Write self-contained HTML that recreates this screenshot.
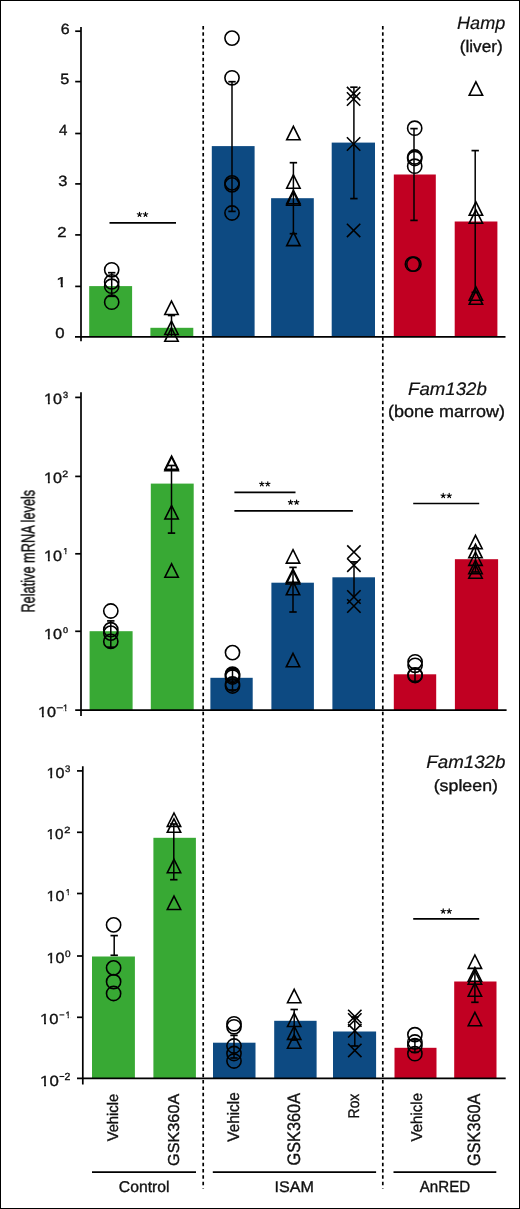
<!DOCTYPE html>
<html><head><meta charset="utf-8"><title>Relative mRNA levels</title>
<style>
html,body{margin:0;padding:0;background:#fff;width:520px;height:1209px;overflow:hidden}
svg{display:block;font-family:"Liberation Sans",sans-serif;text-rendering:geometricPrecision}
</style></head>
<body>
<svg width="520" height="1209" viewBox="0 0 520 1209"><defs><clipPath id="c0" clipPathUnits="userSpaceOnUse"><path d="M-500,-500H3000V500H-500ZM2.70,-22H23.70V15H2.70ZM35.30,-22H56.30V15H35.30Z" clip-rule="evenodd"/></clipPath><clipPath id="c1" clipPathUnits="userSpaceOnUse"><path d="M-500,-500H3000V500H-500ZM2.70,-22H23.70V15H2.70ZM35.30,-22H56.30V15H35.30Z" clip-rule="evenodd"/></clipPath><clipPath id="c2" clipPathUnits="userSpaceOnUse"><path d="M-500,-500H3000V500H-500ZM2.70,-22H23.70V15H2.70ZM35.30,-22H56.30V15H35.30Z" clip-rule="evenodd"/></clipPath><clipPath id="c3" clipPathUnits="userSpaceOnUse"><path d="M-500,-500H3000V500H-500ZM2.70,-22H23.70V15H2.70ZM35.30,-22H56.30V15H35.30Z" clip-rule="evenodd"/></clipPath><clipPath id="c4" clipPathUnits="userSpaceOnUse"><path d="M-500,-500H3000V500H-500ZM2.70,-22H23.70V15H2.70ZM35.30,-22H56.30V15H35.30Z" clip-rule="evenodd"/></clipPath><clipPath id="c5" clipPathUnits="userSpaceOnUse"><path d="M-500,-500H3000V500H-500ZM2.70,-22H23.70V15H2.70ZM35.30,-22H56.30V15H35.30Z" clip-rule="evenodd"/></clipPath><clipPath id="c6" clipPathUnits="userSpaceOnUse"><path d="M-500,-500H3000V500H-500ZM2.70,-22H23.70V15H2.70ZM35.30,-22H56.30V15H35.30Z" clip-rule="evenodd"/></clipPath><clipPath id="c7" clipPathUnits="userSpaceOnUse"><path d="M-500,-500H3000V500H-500ZM2.70,-22H23.70V15H2.70ZM35.30,-22H56.30V15H35.30Z" clip-rule="evenodd"/></clipPath><clipPath id="c8" clipPathUnits="userSpaceOnUse"><path d="M-500,-500H3000V500H-500ZM2.70,-22H23.70V15H2.70ZM35.30,-22H56.30V15H35.30Z" clip-rule="evenodd"/></clipPath><clipPath id="c9" clipPathUnits="userSpaceOnUse"><path d="M-500,-500H3000V500H-500ZM2.70,-22H23.70V15H2.70ZM35.30,-22H56.30V15H35.30Z" clip-rule="evenodd"/></clipPath><clipPath id="c10" clipPathUnits="userSpaceOnUse"><path d="M-500,-500H3000V500H-500ZM2.70,-22H23.70V15H2.70ZM35.30,-22H56.30V15H35.30Z" clip-rule="evenodd"/></clipPath><clipPath id="c11" clipPathUnits="userSpaceOnUse"><path d="M-500,-500H3000V500H-500ZM2.70,-22H23.70V15H2.70ZM35.30,-22H56.30V15H35.30Z" clip-rule="evenodd"/></clipPath><clipPath id="c12" clipPathUnits="userSpaceOnUse"><path d="M-500,-500H3000V500H-500ZM2.70,-22H23.70V15H2.70ZM35.30,-22H56.30V15H35.30Z" clip-rule="evenodd"/></clipPath><clipPath id="c13" clipPathUnits="userSpaceOnUse"><path d="M-500,-500H3000V500H-500ZM2.70,-22H23.70V15H2.70ZM35.30,-22H56.30V15H35.30Z" clip-rule="evenodd"/></clipPath><clipPath id="c14" clipPathUnits="userSpaceOnUse"><path d="M-500,-500H3000V500H-500ZM2.70,-22H23.70V15H2.70ZM35.30,-22H56.30V15H35.30Z" clip-rule="evenodd"/></clipPath><clipPath id="c15" clipPathUnits="userSpaceOnUse"><path d="M-500,-500H3000V500H-500ZM2.70,-22H23.70V15H2.70ZM35.30,-22H56.30V15H35.30Z" clip-rule="evenodd"/></clipPath></defs><rect x="0" y="0" width="520" height="1209" fill="#fff"/><line x1="203.2" y1="26" x2="203.2" y2="1188.5" stroke="#000" stroke-width="1.7" stroke-dasharray="3.5 2.85"/><line x1="382.8" y1="26" x2="382.8" y2="1188.5" stroke="#000" stroke-width="1.7" stroke-dasharray="3.5 2.85"/><rect x="89.20" y="286.10" width="42.90" height="50.70" fill="#38a934"/><rect x="150.40" y="327.80" width="42.90" height="9.00" fill="#38a934"/><rect x="211.80" y="146.10" width="42.80" height="190.70" fill="#0d4a82"/><rect x="271.10" y="198.20" width="42.70" height="138.60" fill="#0d4a82"/><rect x="331.70" y="142.60" width="43.30" height="194.20" fill="#0d4a82"/><rect x="393.80" y="174.50" width="42.00" height="162.30" fill="#c10022"/><rect x="454.70" y="221.50" width="42.70" height="115.30" fill="#c10022"/><rect x="89.60" y="631.20" width="43.00" height="79.00" fill="#38a934"/><rect x="150.80" y="483.60" width="42.90" height="226.60" fill="#38a934"/><rect x="210.40" y="677.80" width="42.30" height="32.40" fill="#0d4a82"/><rect x="271.40" y="582.70" width="42.50" height="127.50" fill="#0d4a82"/><rect x="332.40" y="577.30" width="42.60" height="132.90" fill="#0d4a82"/><rect x="393.80" y="674.30" width="42.40" height="35.90" fill="#c10022"/><rect x="454.90" y="559.20" width="43.20" height="151.00" fill="#c10022"/><rect x="92.00" y="956.50" width="42.90" height="121.90" fill="#38a934"/><rect x="153.40" y="837.80" width="42.50" height="240.60" fill="#38a934"/><rect x="213.00" y="1042.70" width="42.50" height="35.70" fill="#0d4a82"/><rect x="274.20" y="1020.80" width="42.40" height="57.60" fill="#0d4a82"/><rect x="333.00" y="1031.50" width="43.10" height="46.90" fill="#0d4a82"/><rect x="394.50" y="1047.80" width="42.00" height="30.60" fill="#c10022"/><rect x="454.20" y="981.50" width="42.30" height="96.90" fill="#c10022"/><line x1="81" y1="26.9" x2="81" y2="341.2" stroke="#000" stroke-width="1.7" /><line x1="75.0" y1="336.8" x2="505.5" y2="336.8" stroke="#000" stroke-width="1.7" /><line x1="75.2" y1="286.4" x2="81" y2="286.4" stroke="#000" stroke-width="1.7" /><line x1="75.2" y1="234.9" x2="81" y2="234.9" stroke="#000" stroke-width="1.7" /><line x1="75.2" y1="183.9" x2="81" y2="183.9" stroke="#000" stroke-width="1.7" /><line x1="75.2" y1="133.5" x2="81" y2="133.5" stroke="#000" stroke-width="1.7" /><line x1="75.2" y1="81.6" x2="81" y2="81.6" stroke="#000" stroke-width="1.7" /><line x1="75.2" y1="31.2" x2="81" y2="31.2" stroke="#000" stroke-width="1.7" /><line x1="81" y1="392.3" x2="81" y2="716.0" stroke="#000" stroke-width="1.7" /><line x1="75.2" y1="710.2" x2="506.6" y2="710.2" stroke="#000" stroke-width="1.7" /><line x1="75.2" y1="397.4" x2="81" y2="397.4" stroke="#000" stroke-width="1.7" /><line x1="75.2" y1="476.4" x2="81" y2="476.4" stroke="#000" stroke-width="1.7" /><line x1="75.2" y1="553.8" x2="81" y2="553.8" stroke="#000" stroke-width="1.7" /><line x1="75.2" y1="631.3" x2="81" y2="631.3" stroke="#000" stroke-width="1.7" /><line x1="82.8" y1="766.2" x2="82.8" y2="1084.5" stroke="#000" stroke-width="1.7" /><line x1="77.0" y1="1078.4" x2="505.7" y2="1078.4" stroke="#000" stroke-width="1.7" /><line x1="77.0" y1="770.9" x2="82.8" y2="770.9" stroke="#000" stroke-width="1.7" /><line x1="77.0" y1="832.3" x2="82.8" y2="832.3" stroke="#000" stroke-width="1.7" /><line x1="77.0" y1="893.5" x2="82.8" y2="893.5" stroke="#000" stroke-width="1.7" /><line x1="77.0" y1="956.0" x2="82.8" y2="956.0" stroke="#000" stroke-width="1.7" /><line x1="77.0" y1="1017.3" x2="82.8" y2="1017.3" stroke="#000" stroke-width="1.7" /><line x1="111.7" y1="272.7" x2="111.7" y2="296.3" stroke="#000" stroke-width="1.5" /><line x1="108.0" y1="272.7" x2="115.4" y2="272.7" stroke="#000" stroke-width="1.7" /><line x1="108.0" y1="296.3" x2="115.4" y2="296.3" stroke="#000" stroke-width="1.7" /><circle cx="111.7" cy="269.8" r="7.1" fill="none" stroke="#000" stroke-width="1.6"/><circle cx="111.7" cy="281.9" r="7.1" fill="none" stroke="#000" stroke-width="1.6"/><circle cx="111.7" cy="286.2" r="7.1" fill="none" stroke="#000" stroke-width="1.6"/><circle cx="111.7" cy="302.2" r="7.1" fill="none" stroke="#000" stroke-width="1.6"/><line x1="171.5" y1="315.5" x2="171.5" y2="336.0" stroke="#000" stroke-width="1.5" /><line x1="167.8" y1="315.5" x2="175.2" y2="315.5" stroke="#000" stroke-width="1.7" /><path d="M171.50,301.10L178.20,314.50L164.80,314.50Z" fill="none" stroke="#000" stroke-width="1.6" stroke-linejoin="miter"/><path d="M171.50,321.10L178.20,334.50L164.80,334.50Z" fill="none" stroke="#000" stroke-width="1.6" stroke-linejoin="miter"/><path d="M171.50,327.90L178.20,341.30L164.80,341.30Z" fill="none" stroke="#000" stroke-width="1.6" stroke-linejoin="miter"/><line x1="232.0" y1="81.7" x2="232.0" y2="211.4" stroke="#000" stroke-width="1.5" /><line x1="228.3" y1="81.7" x2="235.7" y2="81.7" stroke="#000" stroke-width="1.7" /><line x1="228.3" y1="211.4" x2="235.7" y2="211.4" stroke="#000" stroke-width="1.7" /><circle cx="232.0" cy="38.1" r="7.1" fill="none" stroke="#000" stroke-width="1.6"/><circle cx="232.0" cy="77.8" r="7.1" fill="none" stroke="#000" stroke-width="1.6"/><circle cx="232.0" cy="182.9" r="7.1" fill="none" stroke="#000" stroke-width="1.6"/><circle cx="232.0" cy="184.9" r="7.1" fill="none" stroke="#000" stroke-width="1.6"/><circle cx="232.0" cy="213.0" r="7.1" fill="none" stroke="#000" stroke-width="1.6"/><line x1="293.4" y1="162.7" x2="293.4" y2="233.7" stroke="#000" stroke-width="1.5" /><line x1="289.7" y1="162.7" x2="297.09999999999997" y2="162.7" stroke="#000" stroke-width="1.7" /><line x1="289.7" y1="233.7" x2="297.09999999999997" y2="233.7" stroke="#000" stroke-width="1.7" /><path d="M293.40,126.40L300.10,139.80L286.70,139.80Z" fill="none" stroke="#000" stroke-width="1.6" stroke-linejoin="miter"/><path d="M293.40,174.80L300.10,188.20L286.70,188.20Z" fill="none" stroke="#000" stroke-width="1.6" stroke-linejoin="miter"/><path d="M293.40,190.30L300.10,203.70L286.70,203.70Z" fill="none" stroke="#000" stroke-width="1.6" stroke-linejoin="miter"/><path d="M293.40,191.90L300.10,205.30L286.70,205.30Z" fill="none" stroke="#000" stroke-width="1.6" stroke-linejoin="miter"/><path d="M293.40,232.20L300.10,245.60L286.70,245.60Z" fill="none" stroke="#000" stroke-width="1.6" stroke-linejoin="miter"/><line x1="353.9" y1="87.2" x2="353.9" y2="198.6" stroke="#000" stroke-width="1.5" /><line x1="350.2" y1="87.2" x2="357.59999999999997" y2="87.2" stroke="#000" stroke-width="1.7" /><line x1="350.2" y1="198.6" x2="357.59999999999997" y2="198.6" stroke="#000" stroke-width="1.7" /><path d="M346.90,86.90L360.30,100.30M346.90,100.30L360.30,86.90" fill="none" stroke="#000" stroke-width="1.6"/><path d="M346.90,92.30L360.30,105.70M346.90,105.70L360.30,92.30" fill="none" stroke="#000" stroke-width="1.6"/><path d="M346.90,137.30L360.30,150.70M346.90,150.70L360.30,137.30" fill="none" stroke="#000" stroke-width="1.6"/><path d="M346.90,223.70L360.30,237.10M346.90,237.10L360.30,223.70" fill="none" stroke="#000" stroke-width="1.6"/><line x1="414.0" y1="128.6" x2="414.0" y2="220.4" stroke="#000" stroke-width="1.5" /><line x1="410.3" y1="128.6" x2="417.7" y2="128.6" stroke="#000" stroke-width="1.7" /><line x1="410.3" y1="220.4" x2="417.7" y2="220.4" stroke="#000" stroke-width="1.7" /><circle cx="414.7" cy="128.2" r="7.1" fill="none" stroke="#000" stroke-width="1.6"/><circle cx="414.7" cy="157.0" r="7.1" fill="none" stroke="#000" stroke-width="1.6"/><circle cx="414.7" cy="158.5" r="7.1" fill="none" stroke="#000" stroke-width="1.6"/><circle cx="414.7" cy="166.2" r="7.1" fill="none" stroke="#000" stroke-width="1.6"/><circle cx="412.4" cy="264.2" r="7.1" fill="none" stroke="#000" stroke-width="1.6"/><circle cx="413.9" cy="264.2" r="7.1" fill="none" stroke="#000" stroke-width="1.6"/><line x1="475.2" y1="150.6" x2="475.2" y2="292.4" stroke="#000" stroke-width="1.5" /><line x1="471.5" y1="150.6" x2="478.9" y2="150.6" stroke="#000" stroke-width="1.7" /><line x1="471.5" y1="292.4" x2="478.9" y2="292.4" stroke="#000" stroke-width="1.7" /><path d="M475.90,81.90L482.60,95.30L469.20,95.30Z" fill="none" stroke="#000" stroke-width="1.6" stroke-linejoin="miter"/><path d="M475.90,201.90L482.60,215.30L469.20,215.30Z" fill="none" stroke="#000" stroke-width="1.6" stroke-linejoin="miter"/><path d="M475.90,209.80L482.60,223.20L469.20,223.20Z" fill="none" stroke="#000" stroke-width="1.6" stroke-linejoin="miter"/><path d="M475.90,286.90L482.60,300.30L469.20,300.30Z" fill="none" stroke="#000" stroke-width="1.6" stroke-linejoin="miter"/><path d="M475.90,290.90L482.60,304.30L469.20,304.30Z" fill="none" stroke="#000" stroke-width="1.6" stroke-linejoin="miter"/><line x1="109.5" y1="222.9" x2="176.0" y2="222.9" stroke="#000" stroke-width="1.7" /><path d="M139.50,214.50L139.50,212.20M139.50,214.50L137.31,213.79M139.50,214.50L138.15,216.36M139.50,214.50L140.85,216.36M139.50,214.50L141.69,213.79" stroke="#000" stroke-width="1.15" stroke-linecap="round" fill="none"/><path d="M145.50,214.50L145.50,212.20M145.50,214.50L143.31,213.79M145.50,214.50L144.15,216.36M145.50,214.50L146.85,216.36M145.50,214.50L147.69,213.79" stroke="#000" stroke-width="1.15" stroke-linecap="round" fill="none"/><line x1="110.8" y1="620.9" x2="110.8" y2="647.2" stroke="#000" stroke-width="1.5" /><line x1="107.1" y1="620.9" x2="114.5" y2="620.9" stroke="#000" stroke-width="1.7" /><line x1="107.1" y1="647.2" x2="114.5" y2="647.2" stroke="#000" stroke-width="1.7" /><circle cx="110.8" cy="611.0" r="7.1" fill="none" stroke="#000" stroke-width="1.6"/><circle cx="110.8" cy="629.7" r="7.1" fill="none" stroke="#000" stroke-width="1.6"/><circle cx="110.8" cy="633.1" r="7.1" fill="none" stroke="#000" stroke-width="1.6"/><circle cx="110.8" cy="641.4" r="7.1" fill="none" stroke="#000" stroke-width="1.6"/><line x1="171.5" y1="465.5" x2="171.5" y2="533.1" stroke="#000" stroke-width="1.5" /><line x1="167.8" y1="465.5" x2="175.2" y2="465.5" stroke="#000" stroke-width="1.7" /><line x1="167.8" y1="533.1" x2="175.2" y2="533.1" stroke="#000" stroke-width="1.7" /><path d="M171.60,456.00L178.30,469.40L164.90,469.40Z" fill="none" stroke="#000" stroke-width="1.6" stroke-linejoin="miter"/><path d="M171.60,457.20L178.30,470.60L164.90,470.60Z" fill="none" stroke="#000" stroke-width="1.6" stroke-linejoin="miter"/><path d="M171.60,505.60L178.30,519.00L164.90,519.00Z" fill="none" stroke="#000" stroke-width="1.6" stroke-linejoin="miter"/><path d="M171.60,563.80L178.30,577.20L164.90,577.20Z" fill="none" stroke="#000" stroke-width="1.6" stroke-linejoin="miter"/><line x1="232.5" y1="670.0" x2="232.5" y2="690.0" stroke="#000" stroke-width="1.5" /><line x1="228.8" y1="670.0" x2="236.2" y2="670.0" stroke="#000" stroke-width="1.7" /><line x1="228.8" y1="690.0" x2="236.2" y2="690.0" stroke="#000" stroke-width="1.7" /><circle cx="232.5" cy="652.6" r="7.1" fill="none" stroke="#000" stroke-width="1.6"/><circle cx="232.5" cy="674.2" r="7.1" fill="none" stroke="#000" stroke-width="1.6"/><circle cx="232.5" cy="675.5" r="7.1" fill="none" stroke="#000" stroke-width="1.6"/><circle cx="232.5" cy="677.0" r="7.1" fill="none" stroke="#000" stroke-width="1.6"/><circle cx="232.5" cy="684.0" r="7.1" fill="none" stroke="#000" stroke-width="1.6"/><circle cx="232.5" cy="686.0" r="7.1" fill="none" stroke="#000" stroke-width="1.6"/><line x1="293.0" y1="567.4" x2="293.0" y2="612.0" stroke="#000" stroke-width="1.5" /><line x1="289.3" y1="567.4" x2="296.7" y2="567.4" stroke="#000" stroke-width="1.7" /><line x1="289.3" y1="612.0" x2="296.7" y2="612.0" stroke="#000" stroke-width="1.7" /><path d="M293.00,549.70L299.70,563.10L286.30,563.10Z" fill="none" stroke="#000" stroke-width="1.6" stroke-linejoin="miter"/><path d="M293.00,569.00L299.70,582.40L286.30,582.40Z" fill="none" stroke="#000" stroke-width="1.6" stroke-linejoin="miter"/><path d="M293.00,570.60L299.70,584.00L286.30,584.00Z" fill="none" stroke="#000" stroke-width="1.6" stroke-linejoin="miter"/><path d="M293.00,581.40L299.70,594.80L286.30,594.80Z" fill="none" stroke="#000" stroke-width="1.6" stroke-linejoin="miter"/><path d="M293.00,653.40L299.70,666.80L286.30,666.80Z" fill="none" stroke="#000" stroke-width="1.6" stroke-linejoin="miter"/><line x1="354.0" y1="561.9" x2="354.0" y2="598.0" stroke="#000" stroke-width="1.5" /><line x1="350.3" y1="561.9" x2="357.7" y2="561.9" stroke="#000" stroke-width="1.7" /><path d="M347.20,545.40L360.60,558.80M347.20,558.80L360.60,545.40" fill="none" stroke="#000" stroke-width="1.6"/><path d="M347.20,558.50L360.60,571.90M347.20,571.90L360.60,558.50" fill="none" stroke="#000" stroke-width="1.6"/><path d="M347.20,590.30L360.60,603.70M347.20,603.70L360.60,590.30" fill="none" stroke="#000" stroke-width="1.6"/><path d="M347.20,599.30L360.60,612.70M347.20,612.70L360.60,599.30" fill="none" stroke="#000" stroke-width="1.6"/><line x1="415.0" y1="669.0" x2="415.0" y2="681.4" stroke="#000" stroke-width="1.5" /><line x1="411.3" y1="669.0" x2="418.7" y2="669.0" stroke="#000" stroke-width="1.7" /><line x1="411.3" y1="681.4" x2="418.7" y2="681.4" stroke="#000" stroke-width="1.7" /><circle cx="415.1" cy="661.8" r="7.1" fill="none" stroke="#000" stroke-width="1.6"/><circle cx="415.1" cy="665.3" r="7.1" fill="none" stroke="#000" stroke-width="1.6"/><circle cx="415.1" cy="674.8" r="7.1" fill="none" stroke="#000" stroke-width="1.6"/><circle cx="415.1" cy="675.5" r="7.1" fill="none" stroke="#000" stroke-width="1.6"/><line x1="475.5" y1="548.0" x2="475.5" y2="572.0" stroke="#000" stroke-width="1.5" /><line x1="471.8" y1="548.0" x2="479.2" y2="548.0" stroke="#000" stroke-width="1.7" /><line x1="471.8" y1="572.0" x2="479.2" y2="572.0" stroke="#000" stroke-width="1.7" /><path d="M475.50,535.30L482.20,548.70L468.80,548.70Z" fill="none" stroke="#000" stroke-width="1.6" stroke-linejoin="miter"/><path d="M475.50,544.40L482.20,557.80L468.80,557.80Z" fill="none" stroke="#000" stroke-width="1.6" stroke-linejoin="miter"/><path d="M475.50,552.00L482.20,565.40L468.80,565.40Z" fill="none" stroke="#000" stroke-width="1.6" stroke-linejoin="miter"/><path d="M475.50,560.30L482.20,573.70L468.80,573.70Z" fill="none" stroke="#000" stroke-width="1.6" stroke-linejoin="miter"/><path d="M475.50,564.80L482.20,578.20L468.80,578.20Z" fill="none" stroke="#000" stroke-width="1.6" stroke-linejoin="miter"/><line x1="234.4" y1="492.3" x2="295.5" y2="492.3" stroke="#000" stroke-width="1.7" /><path d="M261.80,484.00L261.80,481.70M261.80,484.00L259.61,483.29M261.80,484.00L260.45,485.86M261.80,484.00L263.15,485.86M261.80,484.00L263.99,483.29" stroke="#000" stroke-width="1.15" stroke-linecap="round" fill="none"/><path d="M267.80,484.00L267.80,481.70M267.80,484.00L265.61,483.29M267.80,484.00L266.45,485.86M267.80,484.00L269.15,485.86M267.80,484.00L269.99,483.29" stroke="#000" stroke-width="1.15" stroke-linecap="round" fill="none"/><line x1="234.4" y1="510.9" x2="352.9" y2="510.9" stroke="#000" stroke-width="1.7" /><path d="M290.60,502.30L290.60,500.00M290.60,502.30L288.41,501.59M290.60,502.30L289.25,504.16M290.60,502.30L291.95,504.16M290.60,502.30L292.79,501.59" stroke="#000" stroke-width="1.15" stroke-linecap="round" fill="none"/><path d="M296.60,502.30L296.60,500.00M296.60,502.30L294.41,501.59M296.60,502.30L295.25,504.16M296.60,502.30L297.95,504.16M296.60,502.30L298.79,501.59" stroke="#000" stroke-width="1.15" stroke-linecap="round" fill="none"/><line x1="413.2" y1="503.5" x2="479.2" y2="503.5" stroke="#000" stroke-width="1.7" /><path d="M443.20,495.70L443.20,493.40M443.20,495.70L441.01,494.99M443.20,495.70L441.85,497.56M443.20,495.70L444.55,497.56M443.20,495.70L445.39,494.99" stroke="#000" stroke-width="1.15" stroke-linecap="round" fill="none"/><path d="M449.20,495.70L449.20,493.40M449.20,495.70L447.01,494.99M449.20,495.70L447.85,497.56M449.20,495.70L450.55,497.56M449.20,495.70L451.39,494.99" stroke="#000" stroke-width="1.15" stroke-linecap="round" fill="none"/><line x1="114.2" y1="935.6" x2="114.2" y2="955.3" stroke="#000" stroke-width="1.5" /><line x1="110.5" y1="935.6" x2="117.9" y2="935.6" stroke="#000" stroke-width="1.7" /><line x1="110.5" y1="955.3" x2="117.9" y2="955.3" stroke="#000" stroke-width="1.7" /><circle cx="113.6" cy="924.9" r="7.1" fill="none" stroke="#000" stroke-width="1.6"/><circle cx="113.6" cy="967.9" r="7.1" fill="none" stroke="#000" stroke-width="1.6"/><circle cx="113.6" cy="981.7" r="7.1" fill="none" stroke="#000" stroke-width="1.6"/><circle cx="113.6" cy="993.5" r="7.1" fill="none" stroke="#000" stroke-width="1.6"/><line x1="173.8" y1="824.0" x2="173.8" y2="879.7" stroke="#000" stroke-width="1.5" /><line x1="170.10000000000002" y1="824.0" x2="177.5" y2="824.0" stroke="#000" stroke-width="1.7" /><line x1="170.10000000000002" y1="879.7" x2="177.5" y2="879.7" stroke="#000" stroke-width="1.7" /><path d="M174.00,813.00L180.70,826.40L167.30,826.40Z" fill="none" stroke="#000" stroke-width="1.6" stroke-linejoin="miter"/><path d="M174.00,818.90L180.70,832.30L167.30,832.30Z" fill="none" stroke="#000" stroke-width="1.6" stroke-linejoin="miter"/><path d="M174.00,859.30L180.70,872.70L167.30,872.70Z" fill="none" stroke="#000" stroke-width="1.6" stroke-linejoin="miter"/><path d="M174.00,896.10L180.70,909.50L167.30,909.50Z" fill="none" stroke="#000" stroke-width="1.6" stroke-linejoin="miter"/><line x1="234.0" y1="1035.4" x2="234.0" y2="1058.0" stroke="#000" stroke-width="1.5" /><line x1="230.3" y1="1035.4" x2="237.7" y2="1035.4" stroke="#000" stroke-width="1.7" /><line x1="230.3" y1="1058.0" x2="237.7" y2="1058.0" stroke="#000" stroke-width="1.7" /><circle cx="234.0" cy="1023.8" r="7.1" fill="none" stroke="#000" stroke-width="1.6"/><circle cx="234.0" cy="1026.8" r="7.1" fill="none" stroke="#000" stroke-width="1.6"/><circle cx="234.0" cy="1046.0" r="7.1" fill="none" stroke="#000" stroke-width="1.6"/><circle cx="234.0" cy="1053.5" r="7.1" fill="none" stroke="#000" stroke-width="1.6"/><circle cx="234.0" cy="1061.0" r="7.1" fill="none" stroke="#000" stroke-width="1.6"/><line x1="294.2" y1="1009.5" x2="294.2" y2="1040.0" stroke="#000" stroke-width="1.5" /><line x1="290.5" y1="1009.5" x2="297.9" y2="1009.5" stroke="#000" stroke-width="1.7" /><line x1="290.5" y1="1040.0" x2="297.9" y2="1040.0" stroke="#000" stroke-width="1.7" /><path d="M294.20,989.30L300.90,1002.70L287.50,1002.70Z" fill="none" stroke="#000" stroke-width="1.6" stroke-linejoin="miter"/><path d="M294.20,1013.10L300.90,1026.50L287.50,1026.50Z" fill="none" stroke="#000" stroke-width="1.6" stroke-linejoin="miter"/><path d="M294.20,1026.00L300.90,1039.40L287.50,1039.40Z" fill="none" stroke="#000" stroke-width="1.6" stroke-linejoin="miter"/><path d="M294.20,1034.80L300.90,1048.20L287.50,1048.20Z" fill="none" stroke="#000" stroke-width="1.6" stroke-linejoin="miter"/><line x1="354.8" y1="1017.0" x2="354.8" y2="1046.0" stroke="#000" stroke-width="1.5" /><line x1="351.1" y1="1017.0" x2="358.5" y2="1017.0" stroke="#000" stroke-width="1.7" /><line x1="351.1" y1="1046.0" x2="358.5" y2="1046.0" stroke="#000" stroke-width="1.7" /><path d="M348.10,1009.80L361.50,1023.20M348.10,1023.20L361.50,1009.80" fill="none" stroke="#000" stroke-width="1.6"/><path d="M348.10,1013.30L361.50,1026.70M348.10,1026.70L361.50,1013.30" fill="none" stroke="#000" stroke-width="1.6"/><path d="M348.10,1024.10L361.50,1037.50M348.10,1037.50L361.50,1024.10" fill="none" stroke="#000" stroke-width="1.6"/><path d="M348.10,1043.70L361.50,1057.10M348.10,1057.10L361.50,1043.70" fill="none" stroke="#000" stroke-width="1.6"/><line x1="414.9" y1="1039.9" x2="414.9" y2="1052.3" stroke="#000" stroke-width="1.5" /><line x1="411.2" y1="1039.9" x2="418.59999999999997" y2="1039.9" stroke="#000" stroke-width="1.7" /><line x1="411.2" y1="1052.3" x2="418.59999999999997" y2="1052.3" stroke="#000" stroke-width="1.7" /><circle cx="414.9" cy="1034.7" r="7.1" fill="none" stroke="#000" stroke-width="1.6"/><circle cx="414.9" cy="1042.0" r="7.1" fill="none" stroke="#000" stroke-width="1.6"/><circle cx="414.9" cy="1045.7" r="7.1" fill="none" stroke="#000" stroke-width="1.6"/><circle cx="414.9" cy="1053.7" r="7.1" fill="none" stroke="#000" stroke-width="1.6"/><line x1="474.9" y1="966.8" x2="474.9" y2="1002.3" stroke="#000" stroke-width="1.5" /><line x1="471.2" y1="1002.3" x2="478.59999999999997" y2="1002.3" stroke="#000" stroke-width="1.7" /><path d="M474.90,955.00L481.60,968.40L468.20,968.40Z" fill="none" stroke="#000" stroke-width="1.6" stroke-linejoin="miter"/><path d="M474.90,967.80L481.60,981.20L468.20,981.20Z" fill="none" stroke="#000" stroke-width="1.6" stroke-linejoin="miter"/><path d="M474.90,970.80L481.60,984.20L468.20,984.20Z" fill="none" stroke="#000" stroke-width="1.6" stroke-linejoin="miter"/><path d="M474.90,982.80L481.60,996.20L468.20,996.20Z" fill="none" stroke="#000" stroke-width="1.6" stroke-linejoin="miter"/><path d="M474.90,1012.30L481.60,1025.70L468.20,1025.70Z" fill="none" stroke="#000" stroke-width="1.6" stroke-linejoin="miter"/><line x1="413.2" y1="918.8" x2="479.2" y2="918.8" stroke="#000" stroke-width="1.7" /><path d="M443.20,911.20L443.20,908.90M443.20,911.20L441.01,910.49M443.20,911.20L441.85,913.06M443.20,911.20L444.55,913.06M443.20,911.20L445.39,910.49" stroke="#000" stroke-width="1.15" stroke-linecap="round" fill="none"/><path d="M449.20,911.20L449.20,908.90M449.20,911.20L447.01,910.49M449.20,911.20L447.85,913.06M449.20,911.20L450.55,913.06M449.20,911.20L451.39,910.49" stroke="#000" stroke-width="1.15" stroke-linecap="round" fill="none"/><line x1="92.0" y1="1172.1" x2="196.0" y2="1172.1" stroke="#000" stroke-width="1.7" /><line x1="212.8" y1="1172.1" x2="376.1" y2="1172.1" stroke="#000" stroke-width="1.7" /><line x1="393.5" y1="1172.1" x2="496.3" y2="1172.1" stroke="#000" stroke-width="1.7" /><rect x="56.6" y="707.25" width="6.30" height="1.1" fill="#111"/><rect x="59.5" y="1014.35" width="4.80" height="1.1" fill="#111"/><rect x="59.5" y="1075.95" width="4.80" height="1.1" fill="#111"/><g style="opacity:0.999"><text transform="matrix(0.15870,0,0,0.14648,60.707,34.454)" font-size="100" font-style="normal" font-weight="normal" fill="#111" stroke="#111" stroke-width="2.389">6</text><text transform="matrix(0.16211,0,0,0.14857,60.152,84.451)" font-size="100" font-style="normal" font-weight="normal" fill="#111" stroke="#111" stroke-width="2.356">5</text><text transform="matrix(0.15000,0,0,0.14783,59.025,135.400)" font-size="100" font-style="normal" font-weight="normal" fill="#111" stroke="#111" stroke-width="2.368">4</text><text transform="matrix(0.16383,0,0,0.14930,58.145,185.851)" font-size="100" font-style="normal" font-weight="normal" fill="#111" stroke="#111" stroke-width="2.344">3</text><text transform="matrix(0.16703,0,0,0.14429,57.265,236.500)" font-size="100" font-style="normal" font-weight="normal" fill="#111" stroke="#111" stroke-width="2.426">2</text><text transform="matrix(0.18462,0,0,0.14203,56.346,287.200)" font-size="100" font-style="normal" font-weight="normal" fill="#111" stroke="#111" stroke-width="2.464" clip-path="url(#c0)">1</text><text transform="matrix(0.16842,0,0,0.14507,55.326,337.655)" font-size="100" font-style="normal" font-weight="normal" fill="#111" stroke="#111" stroke-width="2.413">0</text><text transform="matrix(0.16205,0,0,0.14930,44.061,404.351)" font-size="100" font-style="normal" font-weight="normal" fill="#111" stroke="#111" stroke-width="2.344" clip-path="url(#c1)">10</text><text transform="matrix(0.09149,0,0,0.08873,63.034,398.211)" font-size="100" font-style="normal" font-weight="normal" fill="#111" stroke="#111" stroke-width="3.944">3</text><text transform="matrix(0.16205,0,0,0.14930,44.061,482.951)" font-size="100" font-style="normal" font-weight="normal" fill="#111" stroke="#111" stroke-width="2.344" clip-path="url(#c2)">10</text><text transform="matrix(0.10549,0,0,0.09143,62.373,476.800)" font-size="100" font-style="normal" font-weight="normal" fill="#111" stroke="#111" stroke-width="3.828">2</text><text transform="matrix(0.16205,0,0,0.14930,44.061,561.051)" font-size="100" font-style="normal" font-weight="normal" fill="#111" stroke="#111" stroke-width="2.344" clip-path="url(#c3)">10</text><text transform="matrix(0.08551,0,0,0.08551,63.264,554.200)" font-size="100" font-style="normal" font-weight="normal" fill="#111" stroke="#111" stroke-width="4.093" clip-path="url(#c4)">1</text><text transform="matrix(0.16205,0,0,0.14507,44.061,639.255)" font-size="100" font-style="normal" font-weight="normal" fill="#111" stroke="#111" stroke-width="2.413" clip-path="url(#c5)">10</text><text transform="matrix(0.09053,0,0,0.08169,63.038,632.618)" font-size="100" font-style="normal" font-weight="normal" fill="#111" stroke="#111" stroke-width="4.284">0</text><text transform="matrix(0.16205,0,0,0.14507,38.061,717.255)" font-size="100" font-style="normal" font-weight="normal" fill="#111" stroke="#111" stroke-width="2.413" clip-path="url(#c6)">10</text><text transform="matrix(0.09130,0,0,0.09130,63.059,710.700)" font-size="100" font-style="normal" font-weight="normal" fill="#111" stroke="#111" stroke-width="3.833" clip-path="url(#c7)">1</text><text transform="matrix(0.16103,0,0,0.14507,46.470,778.455)" font-size="100" font-style="normal" font-weight="normal" fill="#111" stroke="#111" stroke-width="2.413" clip-path="url(#c8)">10</text><text transform="matrix(0.09574,0,0,0.09437,64.917,772.206)" font-size="100" font-style="normal" font-weight="normal" fill="#111" stroke="#111" stroke-width="3.709">3</text><text transform="matrix(0.15282,0,0,0.14225,46.548,839.358)" font-size="100" font-style="normal" font-weight="normal" fill="#111" stroke="#111" stroke-width="2.460" clip-path="url(#c9)">10</text><text transform="matrix(0.10989,0,0,0.09000,64.251,833.300)" font-size="100" font-style="normal" font-weight="normal" fill="#111" stroke="#111" stroke-width="3.889">2</text><text transform="matrix(0.16103,0,0,0.14507,46.470,901.055)" font-size="100" font-style="normal" font-weight="normal" fill="#111" stroke="#111" stroke-width="2.413" clip-path="url(#c10)">10</text><text transform="matrix(0.08406,0,0,0.08406,65.816,894.700)" font-size="100" font-style="normal" font-weight="normal" fill="#111" stroke="#111" stroke-width="4.164" clip-path="url(#c11)">1</text><text transform="matrix(0.16103,0,0,0.14648,46.470,962.754)" font-size="100" font-style="normal" font-weight="normal" fill="#111" stroke="#111" stroke-width="2.389" clip-path="url(#c12)">10</text><text transform="matrix(0.10105,0,0,0.09437,64.896,956.506)" font-size="100" font-style="normal" font-weight="normal" fill="#111" stroke="#111" stroke-width="3.709">0</text><text transform="matrix(0.16615,0,0,0.14507,40.122,1024.055)" font-size="100" font-style="normal" font-weight="normal" fill="#111" stroke="#111" stroke-width="2.413" clip-path="url(#c13)">10</text><text transform="matrix(0.09130,0,0,0.09130,65.559,1017.800)" font-size="100" font-style="normal" font-weight="normal" fill="#111" stroke="#111" stroke-width="3.833" clip-path="url(#c14)">1</text><text transform="matrix(0.16821,0,0,0.14648,40.102,1085.654)" font-size="100" font-style="normal" font-weight="normal" fill="#111" stroke="#111" stroke-width="2.389" clip-path="url(#c15)">10</text><text transform="matrix(0.10549,0,0,0.10286,64.473,1079.700)" font-size="100" font-style="normal" font-weight="normal" fill="#111" stroke="#111" stroke-width="3.403">2</text><text transform="matrix(0.18081,0,0,0.17900,457.058,29.000)" font-size="100" font-style="italic" font-weight="normal" fill="#111" stroke="#111" stroke-width="1.117">Hamp</text><text transform="matrix(0.17179,0,0,0.16800,459.769,51.600)" font-size="100" font-style="normal" font-weight="normal" fill="#111" stroke="#111" stroke-width="2.083">(liver)</text><text transform="matrix(0.18631,0,0,0.18200,408.041,394.600)" font-size="100" font-style="italic" font-weight="normal" fill="#111" stroke="#111" stroke-width="1.099">Fam132b</text><text transform="matrix(0.17978,0,0,0.16800,388.021,417.000)" font-size="100" font-style="normal" font-weight="normal" fill="#111" stroke="#111" stroke-width="2.083">(bone marrow)</text><text transform="matrix(0.18703,0,0,0.18000,426.339,768.200)" font-size="100" font-style="italic" font-weight="normal" fill="#111" stroke="#111" stroke-width="1.111">Fam132b</text><text transform="matrix(0.17822,0,0,0.16200,433.631,790.600)" font-size="100" font-style="normal" font-weight="normal" fill="#111" stroke="#111" stroke-width="2.160">(spleen)</text><text transform="matrix(0,-0.14740,0.15374,0,118.346,1141.374)" font-size="100" font-style="normal" font-weight="normal" fill="#111" stroke="#111" stroke-width="2.277">Vehicle</text><text transform="matrix(0,-0.16223,0.15775,0,179.142,1165.911)" font-size="100" font-style="normal" font-weight="normal" fill="#111" stroke="#111" stroke-width="2.219">GSK360A</text><text transform="matrix(0,-0.15307,0.16463,0,239.335,1141.677)" font-size="100" font-style="normal" font-weight="normal" fill="#111" stroke="#111" stroke-width="2.126">Vehicle</text><text transform="matrix(0,-0.16291,0.18028,0,300.320,1165.415)" font-size="100" font-style="normal" font-weight="normal" fill="#111" stroke="#111" stroke-width="1.941">GSK360A</text><text transform="matrix(0,-0.13905,0.15571,0,358.844,1118.412)" font-size="100" font-style="normal" font-weight="normal" fill="#111" stroke="#111" stroke-width="2.248">Rox</text><text transform="matrix(0,-0.15087,0.15646,0,421.544,1141.575)" font-size="100" font-style="normal" font-weight="normal" fill="#111" stroke="#111" stroke-width="2.237">Vehicle</text><text transform="matrix(0,-0.16291,0.17887,0,480.021,1166.015)" font-size="100" font-style="normal" font-weight="normal" fill="#111" stroke="#111" stroke-width="1.957">GSK360A</text><text transform="matrix(0.15717,0,0,0.15646,118.814,1191.644)" font-size="100" font-style="normal" font-weight="normal" fill="#111" stroke="#111" stroke-width="2.237">Control</text><text transform="matrix(0.16079,0,0,0.15493,274.553,1191.545)" font-size="100" font-style="normal" font-weight="normal" fill="#111" stroke="#111" stroke-width="2.259">ISAM</text><text transform="matrix(0.15122,0,0,0.16087,419.724,1192.200)" font-size="100" font-style="normal" font-weight="normal" fill="#111" stroke="#111" stroke-width="2.176">AnRED</text><text transform="matrix(0,-0.12779,0.18912,0,34.111,612.622)" font-size="100" font-style="normal" font-weight="normal" fill="#111" stroke="#111" stroke-width="2.379">Relative mRNA levels</text></g><rect x="0.5" y="0.5" width="519" height="1208" fill="none" stroke="#000" stroke-width="1"/></svg>
</body></html>
